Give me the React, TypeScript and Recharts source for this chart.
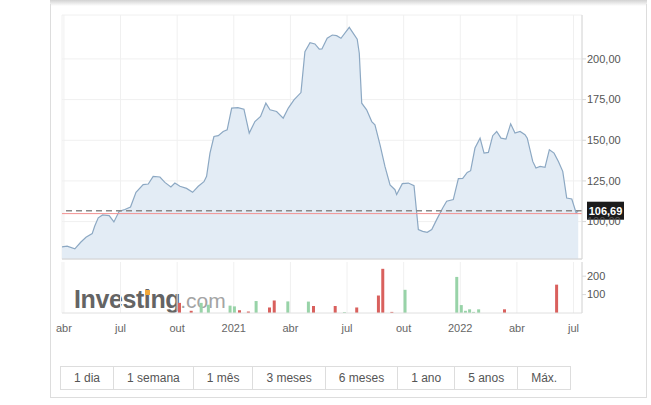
import React from 'react';
import { ComposedChart, Area, Bar, Cell, XAxis, YAxis, CartesianGrid, ReferenceLine } from 'recharts';

// time axis: months since 1 Apr 2020
const priceT = [
  -0.1, 0.17, 0.58, 0.89, 1.17, 1.5, 1.63, 1.82, 2.05, 2.4,
  2.65, 2.93, 3.23, 3.53, 3.82, 4.2, 4.47, 4.73, 5.09, 5.35,
  5.67, 5.88, 6.15, 6.5, 6.82, 7.12, 7.42, 7.56, 7.74, 7.95,
  8.18, 8.44, 8.65, 8.89, 9.22, 9.54, 9.82, 10.12, 10.42, 10.7,
  10.92, 11.27, 11.62, 11.89, 12.19, 12.56, 12.77, 13.04, 13.3, 13.53,
  13.67, 13.95, 14.22, 14.45, 14.68, 15.12, 15.54, 15.65, 15.78, 16.04,
  16.31, 16.48, 16.75, 17.01, 17.28, 17.54, 17.63, 17.93, 18.25, 18.55,
  18.78, 19.01, 19.25, 19.49, 19.75, 20.07, 20.28, 20.63, 20.9, 21.13,
  21.37, 21.55, 21.78, 22.05, 22.26, 22.49, 22.72, 22.93, 23.16, 23.42,
  23.67, 23.9, 24.17, 24.43, 24.55, 24.84, 25.01, 25.23, 25.49, 25.72,
  25.97, 26.2, 26.43, 26.64, 26.91, 27.14, 27.25,
];
const priceV = [
  84.5, 84.9, 83.2, 87.3, 90.4, 92.6, 97.1, 102.3, 104.1, 103.7,
  99.8, 106.3, 107.4, 109, 118, 122.7, 123.1, 127.8, 127.4, 124.1,
  121.3, 123.7, 121.7, 120.4, 118, 121.7, 124.5, 127.8, 142.1, 152.3,
  152.8, 155.4, 156.4, 169.8, 170.1, 169.1, 154.4, 161.5, 164.6, 172.8,
  168.7, 167.7, 163.6, 169.8, 174.8, 179.3, 204.5, 210, 209.2, 206,
  206.1, 212.7, 214.7, 214.3, 212.7, 219.4, 212.1, 203.5, 172.8, 168.7,
  161.5, 159.5, 147.2, 133.9, 122.5, 119.6, 116.6, 123.3, 123.7, 122.1,
  95.1, 94, 93.4, 95.1, 101.2, 108.4, 112.5, 113.5, 126.4, 126.6,
  130.2, 131.3, 145.2, 151.3, 142.1, 142.5, 152.8, 155.4, 151.3, 150.7,
  160.1, 154.4, 155.4, 153.4, 151.3, 137, 132.9, 133.9, 133.3, 144.2,
  142.1, 137, 130.9, 114.5, 113.9, 105.3, 106.69,
];

const volT = [
  6.15, 6.77, 7.3, 7.68, 8.83, 9.06, 9.33, 9.8, 10.21, 10.92,
  11.17, 11.89, 12.98, 13.25, 14.4, 14.89, 15.54, 16.69, 16.92, 17.4,
  18.1, 20.84, 21.08, 21.3, 21.52, 21.73, 22.0, 23.37, 26.13,
];
const volV = [
  55, 12, 55, 45, 40, 36, 15, 8, 65, 30,
  68, 63, 62, 38, 38, 5, 30, 95, 240, 6,
  126, 196, 43, 12, 20, 6, 20, 20, 154,
];
const volUp = [
  false, false, true, true, true, true, false, false, true, false,
  false, true, true, false, false, true, false, false, false, false,
  true, true, true, true, true, true, true, false, false,
];

const monthTicks = [0, 3, 6, 9, 12, 15, 18, 21, 24, 27];
const monthLabels = ['abr', 'jul', 'out', '2021', 'abr', 'jul', 'out', '2022', 'abr', 'jul'];
const priceTicks = [100, 125, 150, 175, 200];
const volTicks = [100, 200];
const lastPrice = 106.69;
const prevClose = 104.9;
const periods = ['1 dia', '1 semana', '1 mês', '3 meses', '6 meses', '1 ano', '5 anos', 'Máx.'];

const X_DOMAIN = [-0.1, 27.45];
const fmt = (v: number) => v.toFixed(2).replace('.', ',');

const MonthTick = ({ x, y, payload }: any) => (
  <text x={x} y={y} dy="0.71em" textAnchor="middle" fill="#666" fontSize={11}>
    {monthLabels[monthTicks.indexOf(payload.value)]}
  </text>
);

const PriceTag = (props: any) => {
  const vb = props.viewBox;
  if (!vb) return null;
  const x = vb.x + vb.width + 5;
  const y = vb.y;
  return (
    <g>
      <rect x={x} y={y - 9} width={37} height={18} fill="#1b1b1b" />
      <text x={x + 18.5} y={y + 4} textAnchor="middle" fill="#fff" fontSize={11} fontWeight="bold">
        {fmt(lastPrice)}
      </text>
    </g>
  );
};

export default function App() {
  const priceData = priceT.map((t, i) => ({ t, price: priceV[i] }));
  const volData = volT.map((t, i) => ({ t, vol: volV[i], up: volUp[i] }));

  return (
    <div style={{ position: 'fixed', left: 0, top: 0, width: 651, height: 405, background: '#fff', fontFamily: 'Arial, "Liberation Sans", sans-serif' }}>
      {/* card */}
      <div style={{ position: 'absolute', left: 50, top: 0, width: 597, height: 6, background: 'linear-gradient(#d2d2d2, #fff)' }} />
      <div style={{ position: 'absolute', left: 50, top: 4, width: 595, height: 393, borderLeft: '1px solid #ddd', borderRight: '1px solid #ddd', borderBottom: '1px solid #ddd' }} />

      {/* watermark */}
      <div style={{ position: 'absolute', left: 74, top: 287, whiteSpace: 'nowrap', lineHeight: '25px' }}>
        <span style={{ fontSize: 25, fontWeight: 'bold', color: '#646464', letterSpacing: -0.4 }}>Investing</span>
        <span style={{ fontSize: 21, color: '#a4a4a4' }}>.com</span>
      </div>
      <div style={{ position: 'absolute', left: 145, top: 290, width: 5, height: 5, background: '#f2a93b' }} />

      <div style={{ position: 'absolute', left: 52, top: 0, width: 592, height: 345, overflow: 'hidden' }}>
        <div style={{ position: 'absolute', left: 0, top: 0 }}>
          <ComposedChart width={592} height={262} data={priceData} margin={{ top: 15, right: 0, bottom: 3, left: 10 }}>
            <CartesianGrid stroke="#f0f0f0" />
            <XAxis dataKey="t" type="number" domain={X_DOMAIN} ticks={monthTicks} allowDataOverflow hide />
            <YAxis
              orientation="right"
              domain={[77, 227]}
              ticks={priceTicks}
              allowDataOverflow
              width={62}
              tickSize={4}
              tickMargin={1}
              axisLine={{ stroke: '#d8d8d8' }}
              tickLine={{ stroke: '#d8d8d8' }}
              tick={{ fill: '#555', fontSize: 11 }}
              tickFormatter={fmt}
            />
            <Area
              dataKey="price"
              type="linear"
              stroke="#8ca8c3"
              strokeWidth={1.2}
              fill="#e3ecf5"
              fillOpacity={1}
              isAnimationActive={false}
            />
            <ReferenceLine y={77} stroke="#d0d0d0" />
            <ReferenceLine y={prevClose} stroke="#f29090" />
            <ReferenceLine y={lastPrice} stroke="#8a8a8a" strokeDasharray="6 4" strokeWidth={1.5} label={PriceTag} />
          </ComposedChart>
        </div>
        <div style={{ position: 'absolute', left: 0, top: 258 }}>
          <ComposedChart width={592} height={80} data={volData} margin={{ top: 4, right: 0, bottom: 0, left: 10 }}>
            <CartesianGrid stroke="#f0f0f0" horizontal={false} />
            <XAxis
              dataKey="t"
              type="number"
              domain={X_DOMAIN}
              ticks={monthTicks}
              allowDataOverflow
              interval={0}
              height={25}
              tickSize={0}
              tickMargin={11}
              tickLine={false}
              axisLine={{ stroke: '#e0e0e0' }}
              tick={<MonthTick />}
            />
            <YAxis
              orientation="right"
              domain={[0, 277]}
              ticks={volTicks}
              allowDataOverflow
              width={62}
              tickSize={4}
              tickMargin={1}
              axisLine={{ stroke: '#d8d8d8' }}
              tickLine={{ stroke: '#d8d8d8' }}
              tick={{ fill: '#555', fontSize: 11 }}
            />
            <Bar dataKey="vol" barSize={3} isAnimationActive={false}>
              {volData.map((d, i) => (
                <Cell key={i} fill={d.up ? '#98d3a8' : '#d9605d'} />
              ))}
            </Bar>
          </ComposedChart>
        </div>
      </div>

      {/* period buttons */}
      <div style={{ position: 'absolute', left: 60, top: 366, display: 'flex', border: '1px solid #ddd', fontSize: 12, color: '#555' }}>
        {periods.map((p, i) => (
          <div
            key={p}
            style={{ padding: '0 13px', lineHeight: '22px', borderLeft: i === 0 ? 'none' : '1px solid #ddd', whiteSpace: 'nowrap' }}
          >
            {p}
          </div>
        ))}
      </div>
    </div>
  );
}
